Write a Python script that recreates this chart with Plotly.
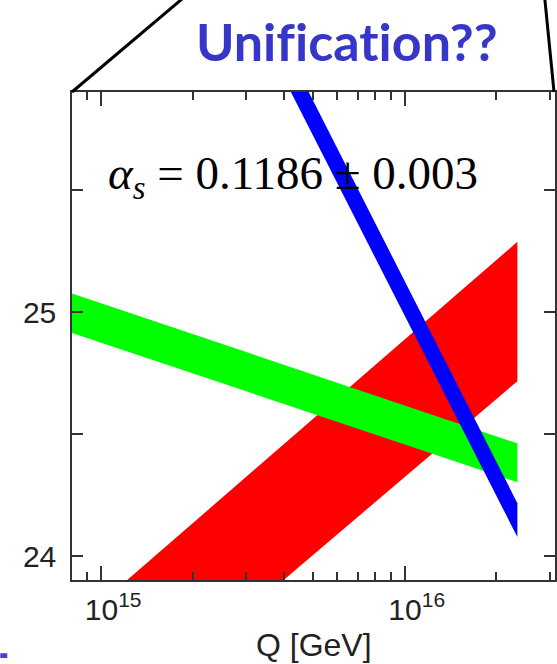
import plotly.graph_objects as go

# ---------------- data ----------------
# band end points: Q [GeV] at the two ends, lower / upper edge of each band
green_q = [8.0e14, 2.35e16]
green_lo = [24.915, 24.303]
green_hi = [25.077, 24.462]

red_q = [8.0e14, 2.35e16]
red_lo = [23.163, 24.717]
red_hi = [23.705, 25.288]

blue_q = [4.0e15, 2.35e16]
blue_lo = [25.958, 24.078]
blue_hi = [26.102, 24.217]

x_major = [1e15, 1e16]
x_major_text = ["10<sup>15</sup>", "10<sup>16</sup>"]
x_minor = [8e14, 9e14, 2e15, 3e15, 4e15, 5e15, 6e15, 7e15, 8e15, 9e15, 2e16, 3e16]
y_ticks = [24, 24.5, 25, 25.5]
y_ticktext = ["24", "", "25", ""]
x_range_log = [14.904, 16.495]
y_range = [23.902, 25.902]

alpha_label = "<i>α</i><sub><i>s</i></sub> = 0.1186 ± 0.003"
title_text = "<b>Unif\u200cicat\u200cion??</b>"
x_title = "Q [GeV]"


def band(q, lo, hi, color):
    xs = [q[0], q[1], q[1], q[0], q[0]]
    ys = [lo[0], lo[1], hi[1], hi[0], lo[0]]
    return go.Scatter(x=xs, y=ys, mode="lines", fill="toself",
                      fillcolor=color, line=dict(width=0, color=color),
                      hoverinfo="skip", showlegend=False)


fig = go.Figure()
fig.add_trace(band(red_q, red_lo, red_hi, "#FF0000"))
fig.add_trace(band(green_q, green_lo, green_hi, "#00FF00"))
fig.add_trace(band(blue_q, blue_lo, blue_hi, "#0000FF"))

axis_col = "#333333"
tick_font = dict(family="Liberation Sans, Arial, sans-serif", size=30, color="#222222")

fig.update_xaxes(
    type="log", range=x_range_log,
    tickvals=x_major, ticktext=x_major_text,
    ticks="inside", ticklen=14, tickwidth=1.5, tickcolor=axis_col,
    showline=True, linecolor=axis_col, linewidth=1.5, mirror="ticks",
    minor=dict(tickvals=x_minor, ticks="inside", ticklen=8, tickwidth=1.5,
               tickcolor=axis_col, showgrid=False),
    showgrid=False, zeroline=False, tickfont=tick_font,
    ticklabelshift=12, ticklabelstandoff=2,
)
fig.update_yaxes(
    range=y_range, tickvals=y_ticks, ticktext=y_ticktext,
    ticks="inside", ticklen=11, tickwidth=1.5, tickcolor=axis_col,
    showline=True, linecolor=axis_col, linewidth=1.5, mirror="ticks",
    showgrid=False, zeroline=False, tickfont=tick_font,
    ticklabelstandoff=8,
)

fig.add_annotation(xref="paper", yref="paper", x=0.070, y=0.826,
                   xanchor="left", yanchor="middle", showarrow=False,
                   text=alpha_label,
                   font=dict(family="Liberation Serif, Times New Roman, serif",
                             size=47, color="black"))
fig.add_annotation(xref="paper", yref="paper", x=0.569, y=1.1035,
                   xanchor="center", yanchor="middle", showarrow=False,
                   text=title_text,
                   font=dict(family="Lato, sans-serif", size=52, color="#3636C8"))
fig.add_annotation(xref="paper", yref="paper", x=0.5, y=-0.134,
                   xanchor="center", yanchor="middle", showarrow=False,
                   text=x_title,
                   font=dict(family="Liberation Sans, Arial, sans-serif", size=32,
                             color="#222222"))

# callout outline around the title
fig.add_shape(type="line", xref="paper", yref="paper",
              x0=0.0, y0=1.0, x1=0.239, y1=1.2,
              line=dict(color="black", width=3))
fig.add_shape(type="line", xref="paper", yref="paper",
              x0=0.998, y0=1.0, x1=0.978, y1=1.2,
              line=dict(color="black", width=3))
# small blue slide mark at bottom-left
fig.add_shape(type="rect", xref="paper", yref="paper",
              x0=-0.1485, x1=-0.134, y0=-0.160, y1=-0.150,
              line=dict(width=0), fillcolor="#4444CC")

fig.update_layout(
    width=557, height=664,
    margin=dict(l=72, r=0, t=92, b=84),
    paper_bgcolor="white", plot_bgcolor="white",
    showlegend=False,
)

fig.write_html("out.html")
